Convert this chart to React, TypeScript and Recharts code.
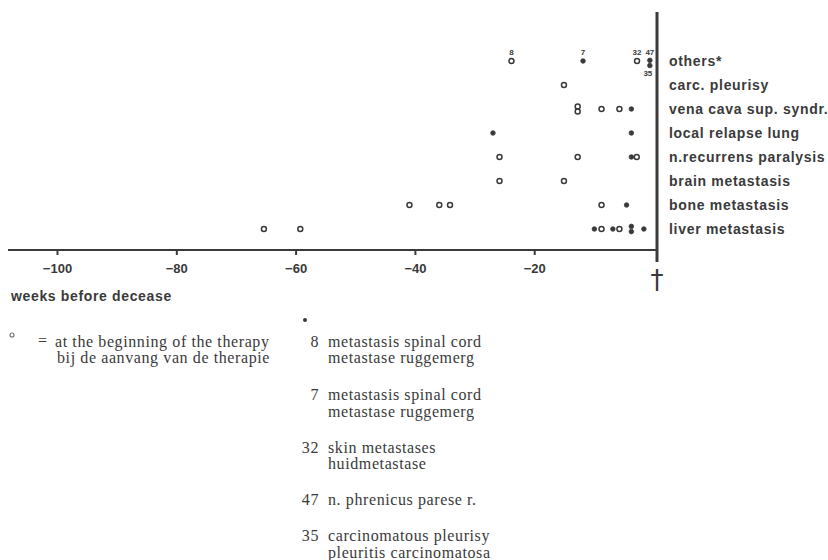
import React from 'react';
import { ScatterChart, Scatter, XAxis, YAxis } from 'recharts';

// Row categories (bottom to top)
const categories = [
  'liver metastasis',
  'bone metastasis',
  'brain metastasis',
  'n.recurrens paralysis',
  'local relapse lung',
  'vena cava sup. syndr.',
  'carc. pleurisy',
  'others*',
];
const rowTicks = [1, 2, 3, 4, 5, 6, 7, 8];

const xTicks = [-100, -80, -60, -40, -20];

// open circles: "at the beginning of the therapy"
const beginTherapy = [
  { cat: 'liver metastasis', week: -65.4 },
  { cat: 'liver metastasis', week: -59.3 },
  { cat: 'liver metastasis', week: -8.8 },
  { cat: 'liver metastasis', week: -5.8 },
  { cat: 'bone metastasis', week: -41.0 },
  { cat: 'bone metastasis', week: -36.0 },
  { cat: 'bone metastasis', week: -34.2 },
  { cat: 'bone metastasis', week: -8.8 },
  { cat: 'brain metastasis', week: -25.9 },
  { cat: 'brain metastasis', week: -15.1 },
  { cat: 'n.recurrens paralysis', week: -25.9 },
  { cat: 'n.recurrens paralysis', week: -12.8 },
  { cat: 'n.recurrens paralysis', week: -2.9 },
  { cat: 'vena cava sup. syndr.', week: -12.8, n: 2 },
  { cat: 'vena cava sup. syndr.', week: -8.8 },
  { cat: 'vena cava sup. syndr.', week: -5.8 },
  { cat: 'carc. pleurisy', week: -15.1 },
  { cat: 'others*', week: -23.9, note: '8' },
  { cat: 'others*', week: -2.85, note: '32' },
];

// filled dots: later in the course
const laterCourse = [
  { cat: 'liver metastasis', week: -10.0 },
  { cat: 'liver metastasis', week: -6.9 },
  { cat: 'liver metastasis', week: -3.8, n: 2 },
  { cat: 'liver metastasis', week: -1.7 },
  { cat: 'bone metastasis', week: -4.6 },
  { cat: 'n.recurrens paralysis', week: -3.8 },
  { cat: 'local relapse lung', week: -27.0 },
  { cat: 'local relapse lung', week: -3.8 },
  { cat: 'vena cava sup. syndr.', week: -3.8 },
  { cat: 'others*', week: -11.9, note: '7' },
  { cat: 'others*', week: -0.7, n: 2, note: '47', noteBelow: '35' },
];

// legend of the numbered "others"
const legendNumbers = ['8', '7', '32', '47', '35'];
const legendLines = [
  ['metastasis spinal cord', 'metastase ruggemerg'],
  ['metastasis spinal cord', 'metastase ruggemerg'],
  ['skin metastases', 'huidmetastase'],
  ['n. phrenicus parese r.'],
  ['carcinomatous pleurisy', 'pleuritis carcinomatosa'],
];
const openLegend = ['at the beginning of the therapy', 'bij de aanvang van de therapie'];

const INK = '#3a3a3a';
const SANS = '"Liberation Sans", Arial, sans-serif';
const SERIF = '"Liberation Serif", "Times New Roman", serif';

const toRows = (arr: any[], filled: boolean) =>
  arr.map((d) => ({
    pos: d.week,
    row: categories.indexOf(d.cat) + 1,
    filled,
    n: d.n || 1,
    note: d.note || '',
    noteBelow: d.noteBelow || '',
  }));

const PointShape = (props: any) => {
  const { cx, cy, payload } = props;
  if (cx == null || cy == null || !payload) return <g />;
  const filled = payload.filled;
  const n = payload.n || 1;
  const r = filled ? 2.3 : 2.5;
  const offs = n === 2 ? [-2.6, 2.6] : [0];
  const shift = n === 2 && payload.noteBelow ? 2 : 0;
  return (
    <g>
      {offs.map((o: number, i: number) => (
        <circle
          key={i}
          cx={cx}
          cy={cy + o + shift}
          r={r}
          fill={filled ? INK : '#fff'}
          stroke={INK}
          strokeWidth={filled ? 0.8 : 1.5}
        />
      ))}
      {payload.note ? (
        <text x={cx} y={cy - 6} textAnchor="middle" fontFamily={SANS} fontWeight={700} fontSize={8} fill={INK}>
          {payload.note}
        </text>
      ) : null}
      {payload.noteBelow ? (
        <text x={cx - 2} y={cy + 15} textAnchor="middle" fontFamily={SANS} fontWeight={700} fontSize={8} fill={INK}>
          {payload.noteBelow}
        </text>
      ) : null}
    </g>
  );
};

export default function App() {
  const allData = [...toRows(beginTherapy, false), ...toRows(laterCourse, true)];
  const legendBase = [346.7, 400, 452.5, 505, 541];
  return (
    <div style={{ position: 'absolute', left: 0, top: 0, width: 828, height: 560, background: '#fff' }}>
      <svg
        width={828}
        height={560}
        style={{ position: 'absolute', left: 0, top: 0, pointerEvents: 'none' }}
      >
        <line x1={657} y1={250} x2={657} y2={262} stroke={INK} strokeWidth={3} />
        <text x={657} y={289} textAnchor="middle" fontFamily='"DejaVu Sans", sans-serif' fontSize={26} fill={INK}>
          †
        </text>
        <text x={11} y={301} fontFamily={SANS} fontWeight={700} fontSize={14} letterSpacing={0.65} fill={INK}>
          weeks before decease
        </text>
        <circle cx={12} cy={335} r={2} fill="#fff" stroke="#777" strokeWidth={1.2} />
        <text x={38} y={346} fontFamily={SERIF} fontSize={16} fill={INK}>=</text>
        {openLegend.map((t, i) => (
          <text key={'ol' + i} x={i === 0 ? 55 : 57} y={346.7 + i * 16.5} fontFamily={SERIF} fontSize={16} letterSpacing={0.6} fill={INK}>
            {t}
          </text>
        ))}
        <circle cx={305} cy={320} r={2} fill={INK} />
        {legendNumbers.map((num, i) => (
          <g key={'ln' + num}>
            <text x={319} y={legendBase[i]} textAnchor="end" fontFamily={SERIF} fontSize={16} letterSpacing={0.6} fill={INK}>
              {num}
            </text>
            {legendLines[i].map((t, j) => (
              <text key={j} x={328} y={legendBase[i] + j * 16.5} fontFamily={SERIF} fontSize={16} letterSpacing={0.6} fill={INK}>
                {t}
              </text>
            ))}
          </g>
        ))}
      </svg>
      <div style={{ position: 'absolute', left: 0, top: 0 }}>
        <ScatterChart
          width={828}
          height={560}
          margin={{ top: 12, right: 11, bottom: 280, left: 8 }}
        >
          <XAxis
            type="number"
            dataKey="pos"
            domain={[-108.3, 0.5]}
            ticks={xTicks}
            interval={0}
            height={30}
            stroke={INK}
            strokeWidth={2}
            tickSize={5}
            tickMargin={9}
            tickFormatter={(v: number) => '\u2212' + Math.abs(v)}
            tick={{ fill: INK, fontFamily: SANS, fontWeight: 700, fontSize: 13 }}
          />
          <YAxis
            type="number"
            dataKey="row"
            orientation="right"
            domain={[0.125, 10.04]}
            ticks={rowTicks}
            width={160}
            stroke={INK}
            strokeWidth={3}
            tickLine={false}
            tickSize={6}
            tickMargin={6}
            tickFormatter={(v: number) => categories[v - 1]}
            tick={{ fill: INK, fontFamily: SANS, fontWeight: 700, fontSize: 14, letterSpacing: 0.7 }}
          />
          <Scatter data={allData} isAnimationActive={false} shape={PointShape} />
        </ScatterChart>
      </div>
    </div>
  );
}
